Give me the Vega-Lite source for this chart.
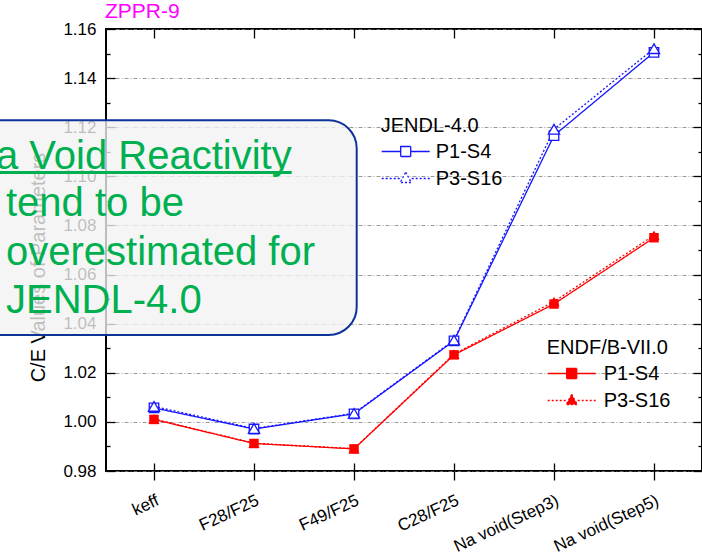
{
  "$schema": "https://vega.github.io/schema/vega-lite/v6.json",
  "width": 596,
  "height": 442,
  "autosize": {"type": "none"},
  "padding": {"left": 106, "top": 29, "right": 0, "bottom": 83},
  "title": {"text": "ZPPR-9", "anchor": "start", "frame": "group", "color": "#ff00ff", "fontSize": 21, "fontWeight": "normal", "font": "Liberation Sans", "offset": 5, "baseline": "alphabetic", "dx": -1, "dy": 24},
  "config": {
    "font": "Liberation Sans",
    "view": {"stroke": "black", "strokeWidth": 2},
    "axis": {"labelColor": "black", "tickColor": "black", "titleColor": "black", "domain": false, "labelFont": "Liberation Sans", "labelFontSize": 17, "tickWidth": 1.3, "grid": false, "title": null}
  },
  "datasets": {
    "cv": [
      {"lib": "JENDL-4.0", "calc": "P1-S4", "param": "keff", "value": 1.0057},
      {"lib": "JENDL-4.0", "calc": "P1-S4", "param": "F28/F25", "value": 0.9971},
      {"lib": "JENDL-4.0", "calc": "P1-S4", "param": "F49/F25", "value": 1.0033},
      {"lib": "JENDL-4.0", "calc": "P1-S4", "param": "C28/F25", "value": 1.0330},
      {"lib": "JENDL-4.0", "calc": "P1-S4", "param": "Na void(Step3)", "value": 1.1166},
      {"lib": "JENDL-4.0", "calc": "P1-S4", "param": "Na void(Step5)", "value": 1.1505},
      {"lib": "JENDL-4.0", "calc": "P3-S16", "param": "keff", "value": 1.0063},
      {"lib": "JENDL-4.0", "calc": "P3-S16", "param": "F28/F25", "value": 0.9973},
      {"lib": "JENDL-4.0", "calc": "P3-S16", "param": "F49/F25", "value": 1.0035},
      {"lib": "JENDL-4.0", "calc": "P3-S16", "param": "C28/F25", "value": 1.0333},
      {"lib": "JENDL-4.0", "calc": "P3-S16", "param": "Na void(Step3)", "value": 1.1192},
      {"lib": "JENDL-4.0", "calc": "P3-S16", "param": "Na void(Step5)", "value": 1.1520},
      {"lib": "ENDF/B-VII.0", "calc": "P1-S4", "param": "keff", "value": 1.0010},
      {"lib": "ENDF/B-VII.0", "calc": "P1-S4", "param": "F28/F25", "value": 0.9912},
      {"lib": "ENDF/B-VII.0", "calc": "P1-S4", "param": "F49/F25", "value": 0.9890},
      {"lib": "ENDF/B-VII.0", "calc": "P1-S4", "param": "C28/F25", "value": 1.0273},
      {"lib": "ENDF/B-VII.0", "calc": "P1-S4", "param": "Na void(Step3)", "value": 1.0480},
      {"lib": "ENDF/B-VII.0", "calc": "P1-S4", "param": "Na void(Step5)", "value": 1.0750},
      {"lib": "ENDF/B-VII.0", "calc": "P3-S16", "param": "keff", "value": 1.0012},
      {"lib": "ENDF/B-VII.0", "calc": "P3-S16", "param": "F28/F25", "value": 0.9913},
      {"lib": "ENDF/B-VII.0", "calc": "P3-S16", "param": "F49/F25", "value": 0.9891},
      {"lib": "ENDF/B-VII.0", "calc": "P3-S16", "param": "C28/F25", "value": 1.0276},
      {"lib": "ENDF/B-VII.0", "calc": "P3-S16", "param": "Na void(Step3)", "value": 1.0490},
      {"lib": "ENDF/B-VII.0", "calc": "P3-S16", "param": "Na void(Step5)", "value": 1.0760}
    ]
  },
  "data": {"name": "cv"},
  "resolve": {
    "scale": {"x": "independent", "color": "independent", "strokeDash": "independent"},
    "axis": {"x": "independent", "y": "independent"},
    "legend": {"color": "independent"}
  },
  "layer": [
    {
      "transform": [{"filter": "datum.lib === 'JENDL-4.0'"}],
      "encoding": {
        "x": {"field": "param", "type": "nominal", "sort": null,
          "scale": {"type": "point", "domain": ["keff", "F28/F25", "F49/F25", "C28/F25", "Na void(Step3)", "Na void(Step5)"], "padding": 0.48},
          "axis": {"orient": "bottom", "ticks": true, "tickSize": 9, "labelAngle": -25, "labelAlign": "right", "labelBaseline": "top", "labelPadding": 12, "title": null, "zindex": 0}},
        "y": {"field": "value", "type": "quantitative",
          "scale": {"domain": [0.98, 1.16], "nice": false, "zero": false},
          "axis": {"orient": "left", "values": [0.98, 1.0, 1.02, 1.04, 1.06, 1.08, 1.1, 1.12, 1.14, 1.16], "format": ".2f", "ticks": false, "labelPadding": 10, "grid": true, "gridColor": "#808080", "gridDash": [4, 2, 1, 2], "gridWidth": 0.8, "title": "C/E Values of Parameters", "titleFontSize": 20, "titleFontWeight": "normal", "titleFont": "Liberation Sans", "titlePadding": 14, "titleY": 238, "zindex": 0}}
      },
      "layer": [
        {"mark": {"type": "line", "strokeWidth": 1.3},
         "encoding": {
           "color": {"field": "calc", "type": "nominal",
             "scale": {"domain": ["P1-S4", "P3-S16"], "range": ["#1414ff", "#1414ff"]},
             "legend": {"title": "JENDL-4.0", "orient": "none", "legendX": 274.7, "legendY": 86.5, "padding": 0,
               "titleFontSize": 20, "titleFontWeight": "normal", "titleColor": "black", "titleFont": "Liberation Sans", "titlePadding": 5,
               "labelFontSize": 20, "labelFont": "Liberation Sans", "labelColor": "black", "labelOffset": 33,
               "symbolSize": 400, "rowPadding": 6,
               "encode": {"symbols": {"update": {
                 "shape": {"signal": "datum.value === 'P1-S4' ? 'M-1,0H0.9M1.9,0H3.8M0.9,-0.5H1.9V0.5H0.9Z' : 'M-1,0H-0.8M-0.6,0H-0.4M-0.2,0H0M0.2,0H0.4M0.6,0H0.8M2,0H2.2M2.4,0H2.6M2.8,0H3M3.2,0H3.4M3.6,0H3.8M1.4,-0.62L1.96,0.4L0.84,0.4Z'"},
                 "fill": {"value": "white"}, "stroke": {"value": "#1414ff"}, "strokeWidth": {"value": 1.3}, "strokeDash": {"value": [1, 0]}, "opacity": {"value": 1}}}}}},
           "strokeDash": {"field": "calc", "type": "nominal", "scale": {"domain": ["P1-S4", "P3-S16"], "range": [[1, 0], [2, 2]]}, "legend": null}}},
        {"transform": [{"filter": "datum.calc === 'P1-S4'"}],
         "mark": {"type": "point", "shape": "square", "size": 90, "filled": false, "fill": "white", "fillOpacity": 1, "stroke": "#1414ff", "strokeWidth": 1.3, "opacity": 1}},
        {"transform": [{"filter": "datum.calc === 'P3-S16'"}],
         "mark": {"type": "point", "shape": "triangle-up", "size": 125, "filled": false, "fill": "white", "fillOpacity": 1, "stroke": "#1414ff", "strokeWidth": 1.3, "opacity": 1}}
      ]
    },
    {
      "transform": [{"filter": "datum.lib === 'ENDF/B-VII.0'"}],
      "encoding": {
        "x": {"field": "param", "type": "nominal", "sort": null,
          "scale": {"type": "point", "domain": ["keff", "F28/F25", "F49/F25", "C28/F25", "Na void(Step3)", "Na void(Step5)"], "padding": 0.48},
          "axis": {"orient": "top", "labels": false, "tickSize": -9, "title": null, "zindex": 0}},
        "y": {"field": "value", "type": "quantitative",
          "scale": {"domain": [0.98, 1.16], "nice": false, "zero": false},
          "axis": {"orient": "right", "values": [0.98, 1.0, 1.02, 1.04, 1.06, 1.08, 1.1, 1.12, 1.14, 1.16], "labels": false, "tickSize": -9, "title": null, "zindex": 0}}
      },
      "layer": [
        {"mark": {"type": "line", "strokeWidth": 1.3},
         "encoding": {
           "color": {"field": "calc", "type": "nominal",
             "scale": {"domain": ["P1-S4", "P3-S16"], "range": ["#ff0000", "#ff0000"]},
             "legend": {"title": "ENDF/B-VII.0", "orient": "none", "legendX": 440.7, "legendY": 308.5, "padding": 0,
               "titleFontSize": 20, "titleFontWeight": "normal", "titleColor": "black", "titleFont": "Liberation Sans", "titlePadding": 5,
               "labelFontSize": 20, "labelFont": "Liberation Sans", "labelColor": "black", "labelOffset": 35,
               "symbolSize": 400, "rowPadding": 6,
               "encode": {"symbols": {"update": {
                 "shape": {"signal": "datum.value === 'P1-S4' ? 'M-1,0H0.9M1.9,0H3.8M0.9,-0.5H1.9V0.5H0.9Z' : 'M-1,0H-0.8M-0.6,0H-0.4M-0.2,0H0M0.2,0H0.4M0.6,0H0.8M2,0H2.2M2.4,0H2.6M2.8,0H3M3.2,0H3.4M3.6,0H3.8M1.4,-0.62L1.96,0.4L0.84,0.4Z'"},
                 "fill": {"value": "#ff0000"}, "stroke": {"value": "#ff0000"}, "strokeWidth": {"value": 1.3}, "strokeDash": {"value": [1, 0]}, "opacity": {"value": 1}}}}}},
           "strokeDash": {"field": "calc", "type": "nominal", "scale": {"domain": ["P1-S4", "P3-S16"], "range": [[1, 0], [2, 2]]}, "legend": null}}},
        {"transform": [{"filter": "datum.calc === 'P1-S4'"}],
         "mark": {"type": "point", "shape": "square", "size": 90, "filled": true, "color": "#ff0000", "opacity": 1}},
        {"transform": [{"filter": "datum.calc === 'P3-S16'"}],
         "mark": {"type": "point", "shape": "triangle-up", "size": 125, "filled": true, "color": "#ff0000", "opacity": 1}}
      ]
    },
    {
      "mark": {"type": "point", "opacity": 0},
      "encoding": {
        "x": {"field": "param", "type": "nominal", "sort": null,
          "scale": {"type": "point", "domain": ["keff", "F28/F25", "F49/F25", "C28/F25", "Na void(Step3)", "Na void(Step5)"], "padding": 0.48},
          "axis": {"orient": "bottom", "labels": false, "tickSize": -8, "title": null, "zindex": 0}},
        "y": {"field": "value", "type": "quantitative",
          "scale": {"domain": [0.98, 1.16], "nice": false, "zero": false},
          "axis": {"orient": "left", "values": [0.98, 1.0, 1.02, 1.04, 1.06, 1.08, 1.1, 1.12, 1.14, 1.16], "labels": false, "tickSize": -9, "title": null, "zindex": 0}}
      }
    },
    {
      "mark": {"type": "point", "opacity": 0},
      "encoding": {
        "x": {"field": "param", "type": "nominal", "sort": null,
          "scale": {"type": "point", "domain": ["keff", "F28/F25", "F49/F25", "C28/F25", "Na void(Step3)", "Na void(Step5)"], "padding": 0.48},
          "axis": null},
        "y": {"field": "value", "type": "quantitative",
          "scale": {"domain": [0.98, 1.16], "nice": false, "zero": false},
          "axis": {"orient": "left", "values": [0.99, 1.01, 1.03, 1.05, 1.07, 1.09, 1.11, 1.13, 1.15], "labels": false, "tickSize": -4, "title": null, "zindex": 0}}
      }
    },
    {
      "mark": {"type": "point", "opacity": 0},
      "encoding": {
        "x": {"field": "param", "type": "nominal", "sort": null,
          "scale": {"type": "point", "domain": ["keff", "F28/F25", "F49/F25", "C28/F25", "Na void(Step3)", "Na void(Step5)"], "padding": 0.48},
          "axis": null},
        "y": {"field": "value", "type": "quantitative",
          "scale": {"domain": [0.98, 1.16], "nice": false, "zero": false},
          "axis": {"orient": "right", "values": [0.99, 1.01, 1.03, 1.05, 1.07, 1.09, 1.11, 1.13, 1.15], "labels": false, "tickSize": -4, "title": null, "zindex": 0}}
      }
    },
    {
      "data": {"values": [{}]},
      "layer": [
        {"mark": {"type": "rect", "fill": "#f2f2f2", "fillOpacity": 0.78, "stroke": "#0d3399", "strokeWidth": 2, "cornerRadius": 28},
         "encoding": {
           "x": {"datum": -1.5, "type": "quantitative", "scale": {"domain": [0, 5.96], "nice": false, "zero": false}, "axis": null},
           "x2": {"datum": 2.507},
           "y": {"datum": 1.1228, "type": "quantitative", "scale": {"domain": [0.98, 1.16], "nice": false, "zero": false}, "axis": null},
           "y2": {"datum": 1.0354}}},
        {"mark": {"type": "rule", "stroke": "#00b050", "strokeWidth": 3},
         "encoding": {
           "x": {"datum": -1.5, "type": "quantitative", "scale": {"domain": [0, 5.96], "nice": false, "zero": false}, "axis": null},
           "x2": {"datum": 1.857},
           "y": {"datum": 1.1016, "type": "quantitative", "scale": {"domain": [0.98, 1.16], "nice": false, "zero": false}, "axis": null}}},
        {"mark": {"type": "text", "text": "Na Void Reactivity", "align": "right", "baseline": "alphabetic", "fontSize": 40, "font": "Liberation Sans", "color": "#00b050"},
         "encoding": {
           "x": {"datum": 1.857, "type": "quantitative", "scale": {"domain": [0, 5.96], "nice": false, "zero": false}, "axis": null},
           "y": {"datum": 1.103, "type": "quantitative", "scale": {"domain": [0.98, 1.16], "nice": false, "zero": false}, "axis": null}}},
        {"mark": {"type": "text", "text": ["tend to be", "overestimated for", "JENDL-4.0"], "align": "left", "baseline": "alphabetic", "lineHeight": 48.3, "fontSize": 40, "font": "Liberation Sans", "color": "#00b050"},
         "encoding": {
           "x": {"datum": -1.0, "type": "quantitative", "scale": {"domain": [0, 5.96], "nice": false, "zero": false}, "axis": null},
           "y": {"datum": 1.0837, "type": "quantitative", "scale": {"domain": [0.98, 1.16], "nice": false, "zero": false}, "axis": null}}}
      ]
    }
  ]
}
